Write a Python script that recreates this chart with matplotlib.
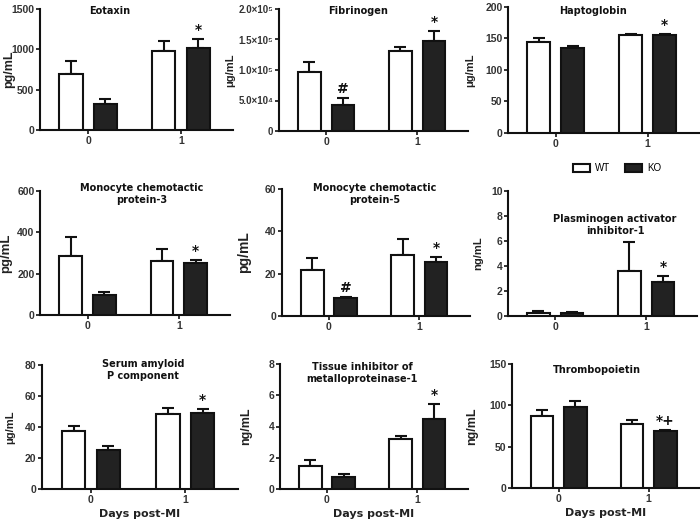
import matplotlib
matplotlib.use('Agg')
import matplotlib.pyplot as plt
from matplotlib.patches import Patch

plt.rcParams['font.family'] = ['Liberation Sans', 'DejaVu Sans']

# Data (mean, upper error bar end)
groups = ['0', '1']
titles = ['Eotaxin', 'Fibrinogen', 'Haptoglobin',
          'Monocyte chemotactic\nprotein-3', 'Monocyte chemotactic\nprotein-5',
          'Plasminogen activator\ninhibitor-1',
          'Serum amyloid\nP component', 'Tissue inhibitor of\nmetalloproteinase-1',
          'Thrombopoietin']
units = ['pg/mL', 'μg/mL', 'μg/mL', 'pg/mL', 'pg/mL', 'ng/mL', 'μg/mL', 'ng/mL', 'ng/mL']

wt_mean = [[694, 983], [96200, 131700], [144.1, 154.8], [284.7, 259], [21.6, 28.9],
           [0.27, 3.57], [37.1, 48.7], [1.49, 3.23], [87.7, 77.6]]
wt_err = [[161, 124], [17500, 6550], [5.9, 1.6], [93.3, 58], [5.9, 7.7],
          [0.10, 2.38], [3.4, 3.8], [0.38, 0.17], [6.8, 4.8]]
ko_mean = [[322, 1020], [42100, 147000], [134.6, 155.3], [96.5, 252.5], [8.4, 25.7],
           [0.24, 2.69], [25.1, 49.1], [0.79, 4.49], [98.1, 68.4]]
ko_err = [[66, 104], [11500, 17500], [3.7, 1.1], [14.5, 12.5], [0.6, 2.1],
          [0.11, 0.48], [2.4, 2.6], [0.15, 0.94], [7.3, 1.6]]

# significance marks: (series, group, symbol)
marks = [[('KO', 1, '*')], [('KO', 0, '#'), ('KO', 1, '*')], [('KO', 1, '*')],
         [('KO', 1, '*')], [('KO', 0, '#'), ('KO', 1, '*')], [('KO', 1, '*')],
         [('KO', 1, '*')], [('KO', 1, '*')], [('KO', 1, '*+')]]

yticks = [[0, 500, 1000, 1500], [0, 50000, 100000, 150000, 200000], [0, 50, 100, 150, 200],
          [0, 200, 400, 600], [0, 20, 40, 60], [0, 2, 4, 6, 8, 10],
          [0, 20, 40, 60, 80], [0, 2, 4, 6, 8], [0, 50, 100, 150]]
fib_labels = ['0', '5.0×10⁴', '1.0×10⁵', '1.5×10⁵', '2.0×10⁵']

# layout in pixels (left, top, right, bottom) of each axes
W, H = 700, 522
rects = [(40, 9, 233, 130), (279, 9, 468, 131), (508, 7, 699, 133),
         (40, 191, 230, 315), (282, 189, 470, 316), (508, 191, 697, 316),
         (42, 365, 238, 489), (280, 364, 468, 489), (512, 364, 699, 488)]
title_pos = [(110, 6), (358, 6), (593, 6), (142, 183), (375, 183), (615, 214),
             (143, 359), (362, 362), (597, 365)]
ylab_dx = [25, 44, 33, 28, 31, 25, 27, 28, 34]
ylab_size = [9, 8, 8, 9.5, 10, 8, 8, 9, 9]

fig = plt.figure(figsize=(7, 5.22), dpi=100)

bw = 0.25
off = 0.185
for i in range(9):
    l, t, r, b = rects[i]
    ax = fig.add_axes([l / W, 1 - b / H, (r - l) / W, (b - t) / H])
    xs = [0, 1]
    wx = [x - off for x in xs]
    kx = [x + off for x in xs]
    ax.bar(wx, wt_mean[i], bw, color='white', edgecolor='#111', linewidth=1.5, zorder=3)
    ax.bar(kx, ko_mean[i], bw, color='#222222', edgecolor='#111', linewidth=1.5, zorder=3)
    for xx, m, e in zip(wx + kx, wt_mean[i] + ko_mean[i], wt_err[i] + ko_err[i]):
        ax.errorbar(xx, m, yerr=[[0], [e]], fmt='none', ecolor='#111',
                    elinewidth=1.5, capsize=4, capthick=1.5, zorder=2)
    for ser, g, sym in marks[i]:
        if ser == 'KO':
            xx, top = kx[g], ko_mean[i][g] + ko_err[i][g]
        else:
            xx, top = wx[g], wt_mean[i][g] + wt_err[i][g]
        ax.annotate(sym, (xx, top), xytext=(0, 1.5), textcoords='offset points',
                    ha='center', va='bottom', fontsize=10, fontweight='bold',
                    family='DejaVu Sans', color='#111')
    ax.set_xlim(-0.52, 1.56)
    ax.set_ylim(0, yticks[i][-1])
    ax.set_xticks(xs)
    ax.set_xticklabels(groups)
    ax.set_yticks(yticks[i])
    if i == 1:
        ax.set_yticklabels(fib_labels)
    for s in ['top', 'right']:
        ax.spines[s].set_visible(False)
    for s in ['left', 'bottom']:
        ax.spines[s].set_linewidth(1.5)
        ax.spines[s].set_color('#111')
    ax.tick_params(axis='both', direction='out', length=3, width=1.2, colors='#111',
                   labelsize=7.5, pad=1)
    if i == 1:
        ax.tick_params(axis='y', labelsize=7)
    for lab in ax.get_xticklabels() + ax.get_yticklabels():
        lab.set_fontweight('bold')
        lab.set_color('#333')
    ax.set_ylabel(units[i], fontsize=ylab_size[i], fontweight='bold', color='#222')
    ax.yaxis.set_label_coords(-ylab_dx[i] / (r - l), 0.5)

    tx, ty = title_pos[i]
    fig.text(tx / W, 1 - ty / H, titles[i], ha='center', va='top', fontsize=7,
             fontweight='bold', family='DejaVu Sans', color='#111', linespacing=1.3)

    if i >= 6:
        ax.set_xlabel('Days post-MI', fontsize=8, fontweight='bold',
                      family='DejaVu Sans', color='#222', labelpad=3)

handles = [Patch(facecolor='white', edgecolor='#111', linewidth=1.5, label='WT'),
           Patch(facecolor='#222222', edgecolor='#111', linewidth=1.5, label='KO')]
fig.legend(handles=handles, loc='center', bbox_to_anchor=(617 / W, 1 - 168 / H),
           ncol=2, frameon=False, fontsize=7, handlelength=1.8, handleheight=0.9,
           columnspacing=1.5, handletextpad=0.5)

fig.savefig('out.png', dpi=100)
